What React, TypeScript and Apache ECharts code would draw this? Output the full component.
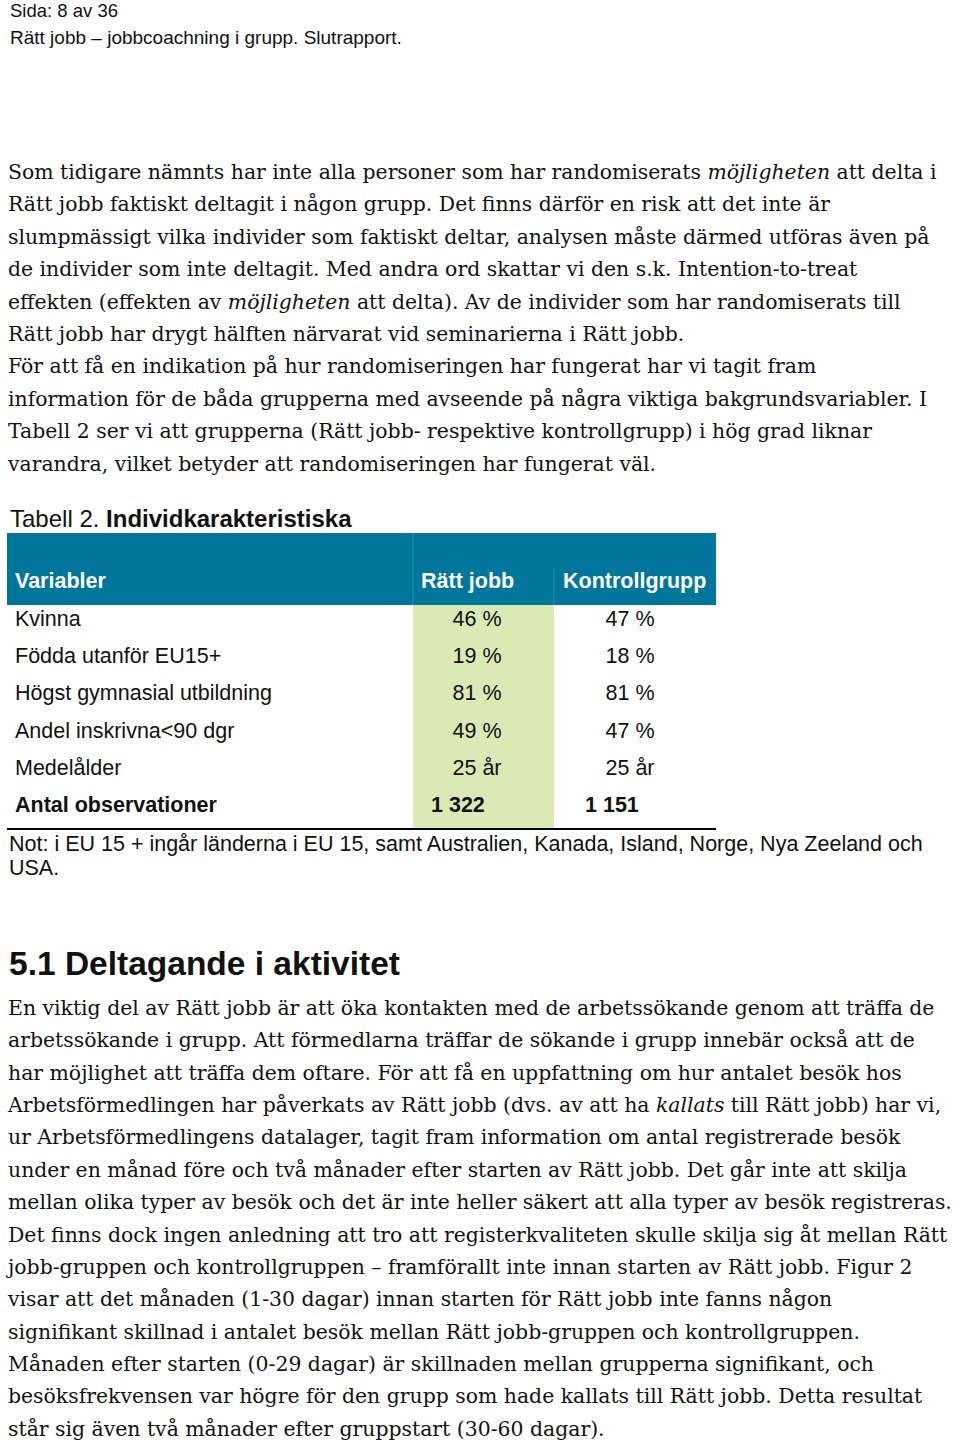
import React, { useEffect, useRef } from "react";
import * as echarts from "echarts";

const pageHeader = ["Sida: 8 av 36", "Rätt jobb – jobbcoachning i grupp. Slutrapport."];

const paragraph1 = [
  "Som tidigare nämnts har inte alla personer som har randomiserats {i|möjligheten} att delta i",
  "Rätt jobb faktiskt deltagit i någon grupp. Det finns därför en risk att det inte är",
  "slumpmässigt vilka individer som faktiskt deltar, analysen måste därmed utföras även på",
  "de individer som inte deltagit. Med andra ord skattar vi den s.k. Intention-to-treat",
  "effekten (effekten av {i|möjligheten} att delta). Av de individer som har randomiserats till",
  "Rätt jobb har drygt hälften närvarat vid seminarierna i Rätt jobb.",
  "För att få en indikation på hur randomiseringen har fungerat har vi tagit fram",
  "information för de båda grupperna med avseende på några viktiga bakgrundsvariabler. I",
  "Tabell 2 ser vi att grupperna (Rätt jobb- respektive kontrollgrupp) i hög grad liknar",
  "varandra, vilket betyder att randomiseringen har fungerat väl.",
];

const tableTitle = "Tabell 2. {b|Individkarakteristiska}";
const tableColumns = ["Variabler", "Rätt jobb", "Kontrollgrupp"];
const variables = [
  "Kvinna",
  "Födda utanför EU15+",
  "Högst gymnasial utbildning",
  "Andel inskrivna<90 dgr",
  "Medelålder",
  "Antal observationer",
];
const rattJobbValues = ["46 %", "19 %", "81 %", "49 %", "25 år", "1 322"];
const kontrollValues = ["47 %", "18 %", "81 %", "47 %", "25 år", "1 151"];
const tableNote = [
  "Not: i EU 15 + ingår länderna i EU 15, samt Australien, Kanada, Island, Norge, Nya Zeeland och",
  "USA.",
];

const sectionHeading = "5.1 Deltagande i aktivitet";

const paragraph2 = [
  "En viktig del av Rätt jobb är att öka kontakten med de arbetssökande genom att träffa de",
  "arbetssökande i grupp. Att förmedlarna träffar de sökande i grupp innebär också att de",
  "har möjlighet att träffa dem oftare. För att få en uppfattning om hur antalet besök hos",
  "Arbetsförmedlingen har påverkats av Rätt jobb (dvs. av att ha {i|kallats} till Rätt jobb) har vi,",
  "ur Arbetsförmedlingens datalager, tagit fram information om antal registrerade besök",
  "under en månad före och två månader efter starten av Rätt jobb. Det går inte att skilja",
  "mellan olika typer av besök och det är inte heller säkert att alla typer av besök registreras.",
  "Det finns dock ingen anledning att tro att registerkvaliteten skulle skilja sig åt mellan Rätt",
  "jobb-gruppen och kontrollgruppen – framförallt inte innan starten av Rätt jobb. Figur 2",
  "visar att det månaden (1-30 dagar) innan starten för Rätt jobb inte fanns någon",
  "signifikant skillnad i antalet besök mellan Rätt jobb-gruppen och kontrollgruppen.",
  "Månaden efter starten (0-29 dagar) är skillnaden mellan grupperna signifikant, och",
  "besöksfrekvensen var högre för den grupp som hade kallats till Rätt jobb. Detta resultat",
  "står sig även två månader efter gruppstart (30-60 dagar).",
];

const SANS = "'Liberation Sans', Arial, sans-serif";
const SERIF = "'DejaVu Serif', Georgia, serif";
const TEAL = "#00769b";
const GREEN = "#d9eab5";
const INK = "#111111";

function serifLine(text: string, x: number, y: number, size: number) {
  return {
    type: "text",
    x,
    y,
    silent: true,
    style: {
      text,
      fontFamily: SERIF,
      fontSize: size,
      fill: INK,
      verticalAlign: "middle",
      align: "left",
      rich: {
        i: { fontFamily: SERIF, fontSize: size, fontStyle: "italic", fill: INK },
      },
    },
  };
}

function sansText(text: string, x: number, y: number, size: number, opts: any = {}) {
  return {
    type: "text",
    x,
    y,
    silent: true,
    style: {
      text,
      fontFamily: SANS,
      fontSize: size,
      fill: opts.fill || INK,
      fontWeight: opts.bold ? "bold" : "normal",
      verticalAlign: "middle",
      align: opts.align || "left",
      rich: {
        b: { fontFamily: SANS, fontSize: size, fontWeight: "bold", fill: opts.fill || INK },
      },
    },
  };
}

export default function App() {
  const ref = useRef<HTMLDivElement>(null);

  useEffect(() => {
    if (!ref.current) return;
    const chart = echarts.init(ref.current, null, { renderer: "svg" });
    const elements: any[] = [];

    // page header
    elements.push(sansText(pageHeader[0], 10, 10, 18.5));
    elements.push(sansText(pageHeader[1], 10, 37, 19));

    // paragraph 1
    const bodySize = 20.4;
    paragraph1.forEach((line, i) => {
      elements.push(serifLine(line, 8, 172 + i * 32.4, bodySize));
    });

    // table title
    elements.push(sansText(tableTitle, 10, 518, 24));

    // table geometry
    const tLeft = 7;
    const tRight = 716;
    const headTop = 533;
    const headBottom = 605;
    const col1 = 413;
    const col2 = 554;
    const rowY0 = 619;
    const rowStep = 37.2;
    const tableBottom = 829;
    const cellSize = 21.5;

    elements.push({
      type: "rect",
      silent: true,
      shape: { x: tLeft, y: headTop, width: tRight - tLeft, height: headBottom - headTop },
      style: { fill: TEAL },
    });
    elements.push({
      type: "rect",
      silent: true,
      shape: { x: col1, y: headBottom, width: col2 - col1, height: tableBottom - headBottom },
      style: { fill: GREEN },
    });
    elements.push({
      type: "line",
      silent: true,
      shape: { x1: col1, y1: headTop, x2: col1, y2: headBottom },
      style: { stroke: "rgba(255,255,255,0.18)", lineWidth: 1 },
    });
    elements.push({
      type: "line",
      silent: true,
      shape: { x1: col2, y1: 568, x2: col2, y2: headBottom },
      style: { stroke: "rgba(255,255,255,0.18)", lineWidth: 1 },
    });
    elements.push({
      type: "line",
      silent: true,
      shape: { x1: tLeft, y1: tableBottom, x2: tRight, y2: tableBottom },
      style: { stroke: "#000000", lineWidth: 2 },
    });

    // header labels
    const headY = 581;
    elements.push(sansText(tableColumns[0], 15, headY, cellSize, { bold: true, fill: "#ffffff" }));
    elements.push(sansText(tableColumns[1], 421, headY, cellSize, { bold: true, fill: "#ffffff" }));
    elements.push(sansText(tableColumns[2], 563, headY, cellSize, { bold: true, fill: "#ffffff" }));

    // rows
    const c1Center = 477;
    const c2Center = 630;
    variables.forEach((v, i) => {
      const y = rowY0 + i * rowStep;
      const isTotal = i === variables.length - 1;
      elements.push(sansText(v, 15, y, cellSize, { bold: isTotal }));
      if (isTotal) {
        elements.push(sansText(rattJobbValues[i], 431, y, cellSize, { bold: true }));
        elements.push(sansText(kontrollValues[i], 585, y, cellSize, { bold: true }));
      } else {
        elements.push(sansText(rattJobbValues[i], c1Center, y, cellSize, { align: "center" }));
        elements.push(sansText(kontrollValues[i], c2Center, y, cellSize, { align: "center" }));
      }
    });

    // note
    tableNote.forEach((line, i) => {
      elements.push(sansText(line, 9, 844 + i * 24, 21.5));
    });

    // heading
    elements.push(sansText(sectionHeading, 9, 963, 33.5, { bold: true }));

    // paragraph 2
    paragraph2.forEach((line, i) => {
      elements.push(serifLine(line, 8, 1008 + i * 32.36, bodySize));
    });

    chart.setOption({
      animation: false,
      backgroundColor: "#ffffff",
      graphic: { elements },
    });

    return () => chart.dispose();
  }, []);

  return (
    <div
      ref={ref}
      style={{ position: "absolute", left: 0, top: 0, width: 960, height: 1444 }}
    />
  );
}
